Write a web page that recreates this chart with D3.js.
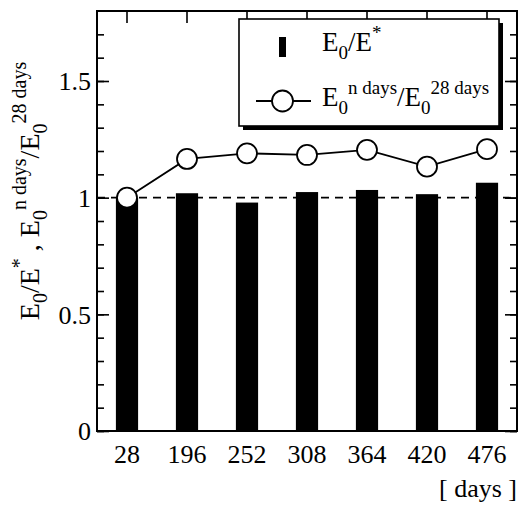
<!DOCTYPE html>
<html>
<head>
<meta charset="utf-8">
<script src="https://cdn.jsdelivr.net/npm/d3@7"></script>
<style>
	body { margin: 0; background: #fff; }
	svg text { font-family: "Liberation Serif", "Times New Roman", serif; fill: #000; }
</style>
</head>
<body>
<svg id="chart" width="520" height="506"></svg>
<script>
// data
var days = ["28", "196", "252", "308", "364", "420", "476"];
var ratioStar = [1.00, 1.019, 0.979, 1.024, 1.033, 1.015, 1.064];      // E0/E*
var ratio28 = [1.00, 1.166, 1.19, 1.183, 1.205, 1.133, 1.208];        // E0(n days)/E0(28 days)
var yMajorTicks = [0, 0.5, 1, 1.5];
var yMinorTicks = d3.range(0, 1.8, 0.1);

var margin = {left: 97, top: 11, right: 3, bottom: 75};
var width = 520 - margin.left - margin.right;
var height = 506 - margin.top - margin.bottom;

var svg = d3.select("#chart");
var g = svg.append("g").attr("transform", "translate(" + margin.left + "," + margin.top + ")");

var x = d3.scaleBand().domain(days).range([0, width]).paddingInner(0.63).paddingOuter(0.315);
var xc = function (d) { return x(d) + x.bandwidth() / 2; };
var y = d3.scaleLinear().domain([0, 1.8]).range([height, 0]);

// rich text helper: segments of normal / sub / sup
function richText(sel, parts, size, small)
{
	var cur = 0;
	parts.forEach(function (p) {
		var target = p.s == "sub" ? size * 0.28 : (p.s == "sup" ? -size * 0.45 : 0);
		sel.append("tspan")
		.attr("dy", target - cur)
		.style("font-size", (p.s ? small : size) + "px")
		.text(p.t);
		cur = target;
	});
}

// bars
g.selectAll("rect.bar").data(days).enter().append("rect")
.attr("class", "bar")
.attr("x", function (d) { return x(d); })
.attr("width", x.bandwidth())
.attr("y", function (d, i) { return y(ratioStar[i]); })
.attr("height", function (d, i) { return height - y(ratioStar[i]); })
.attr("fill", "#000");

// dashed reference line at 1
g.append("line")
.attr("x1", 0).attr("x2", width)
.attr("y1", y(1)).attr("y2", y(1))
.attr("stroke", "#000").attr("stroke-width", 1.6)
.attr("stroke-dasharray", "8,6");

// axes with inward ticks
function styleAxis(a)
{
	a.select(".domain").remove();
	a.selectAll("line").attr("stroke", "#000").attr("stroke-width", 1.6);
}

g.append("g").call(d3.axisLeft(y).tickValues(yMinorTicks).tickSize(-7).tickFormat("")).call(styleAxis);
g.append("g").call(d3.axisLeft(y).tickValues(yMajorTicks).tickSize(-12).tickPadding(6).tickFormat(d3.format("~g")))
.call(styleAxis)
.selectAll("text").style("font-size", "26px").attr("dy", "0.34em");

g.append("g").attr("transform", "translate(" + width + ",0)")
.call(d3.axisRight(y).tickValues(yMinorTicks).tickSize(-7).tickFormat("")).call(styleAxis);
g.append("g").attr("transform", "translate(" + width + ",0)")
.call(d3.axisRight(y).tickValues(yMajorTicks).tickSize(-12).tickFormat("")).call(styleAxis);

g.append("g").call(d3.axisTop(x).tickSize(-12).tickFormat("")).call(styleAxis);
g.append("g").attr("transform", "translate(0," + height + ")")
.call(d3.axisBottom(x).tickSize(-12).tickPadding(10))
.call(styleAxis)
.selectAll("text").style("font-size", "26px").attr("dy", "0.86em");

// frame
g.append("rect")
.attr("width", width).attr("height", height)
.attr("fill", "none").attr("stroke", "#000").attr("stroke-width", 2);

// line + circles
var line = d3.line()
.x(function (d, i) { return xc(days[i]); })
.y(function (d) { return y(d); });

g.append("path").datum(ratio28)
.attr("d", line)
.attr("fill", "none").attr("stroke", "#000").attr("stroke-width", 1.8);

g.selectAll("circle.pt").data(ratio28).enter().append("circle")
.attr("class", "pt")
.attr("cx", function (d, i) { return xc(days[i]); })
.attr("cy", function (d) { return y(d); })
.attr("r", 10)
.attr("fill", "#fff").attr("stroke", "#000").attr("stroke-width", 1.8);

// legend
var lg = svg.append("g").attr("transform", "translate(239,19)");
lg.append("rect").attr("x", 4).attr("y", 4).attr("width", 260).attr("height", 107).attr("fill", "#000");
lg.append("rect").attr("width", 260).attr("height", 107)
.attr("fill", "#fff").attr("stroke", "#000").attr("stroke-width", 1.6);

lg.append("rect").attr("x", 40).attr("y", 18).attr("width", 7).attr("height", 20).attr("fill", "#000");
lg.append("line").attr("x1", 17).attr("x2", 72).attr("y1", 82).attr("y2", 82)
.attr("stroke", "#000").attr("stroke-width", 1.8);
lg.append("circle").attr("cx", 43.5).attr("cy", 82).attr("r", 10.5)
.attr("fill", "#fff").attr("stroke", "#000").attr("stroke-width", 1.8);

richText(lg.append("text").attr("x", 83).attr("y", 32),
	[{t: "E"}, {t: "0", s: "sub"}, {t: "/E"}, {t: "*", s: "sup"}], 27, 19);
richText(lg.append("text").attr("x", 83).attr("y", 87),
	[{t: "E"}, {t: "0", s: "sub"}, {t: "n days", s: "sup"}, {t: "/E"}, {t: "0", s: "sub"}, {t: "28 days", s: "sup"}], 27, 19);

// y title
richText(svg.append("text")
	.attr("transform", "translate(39,191) rotate(-90)")
	.attr("text-anchor", "middle"),
	[{t: "E"}, {t: "0", s: "sub"}, {t: "/E"}, {t: "*", s: "sup"}, {t: " , E"}, {t: "0", s: "sub"},
	 {t: "n days", s: "sup"}, {t: "/E"}, {t: "0", s: "sub"}, {t: "28 days", s: "sup"}], 28, 20);

// x unit label
svg.append("text")
.attr("x", 517).attr("y", 497)
.attr("text-anchor", "end")
.style("font-size", "26px")
.text("[ days ]");
</script>
</body>
</html>
